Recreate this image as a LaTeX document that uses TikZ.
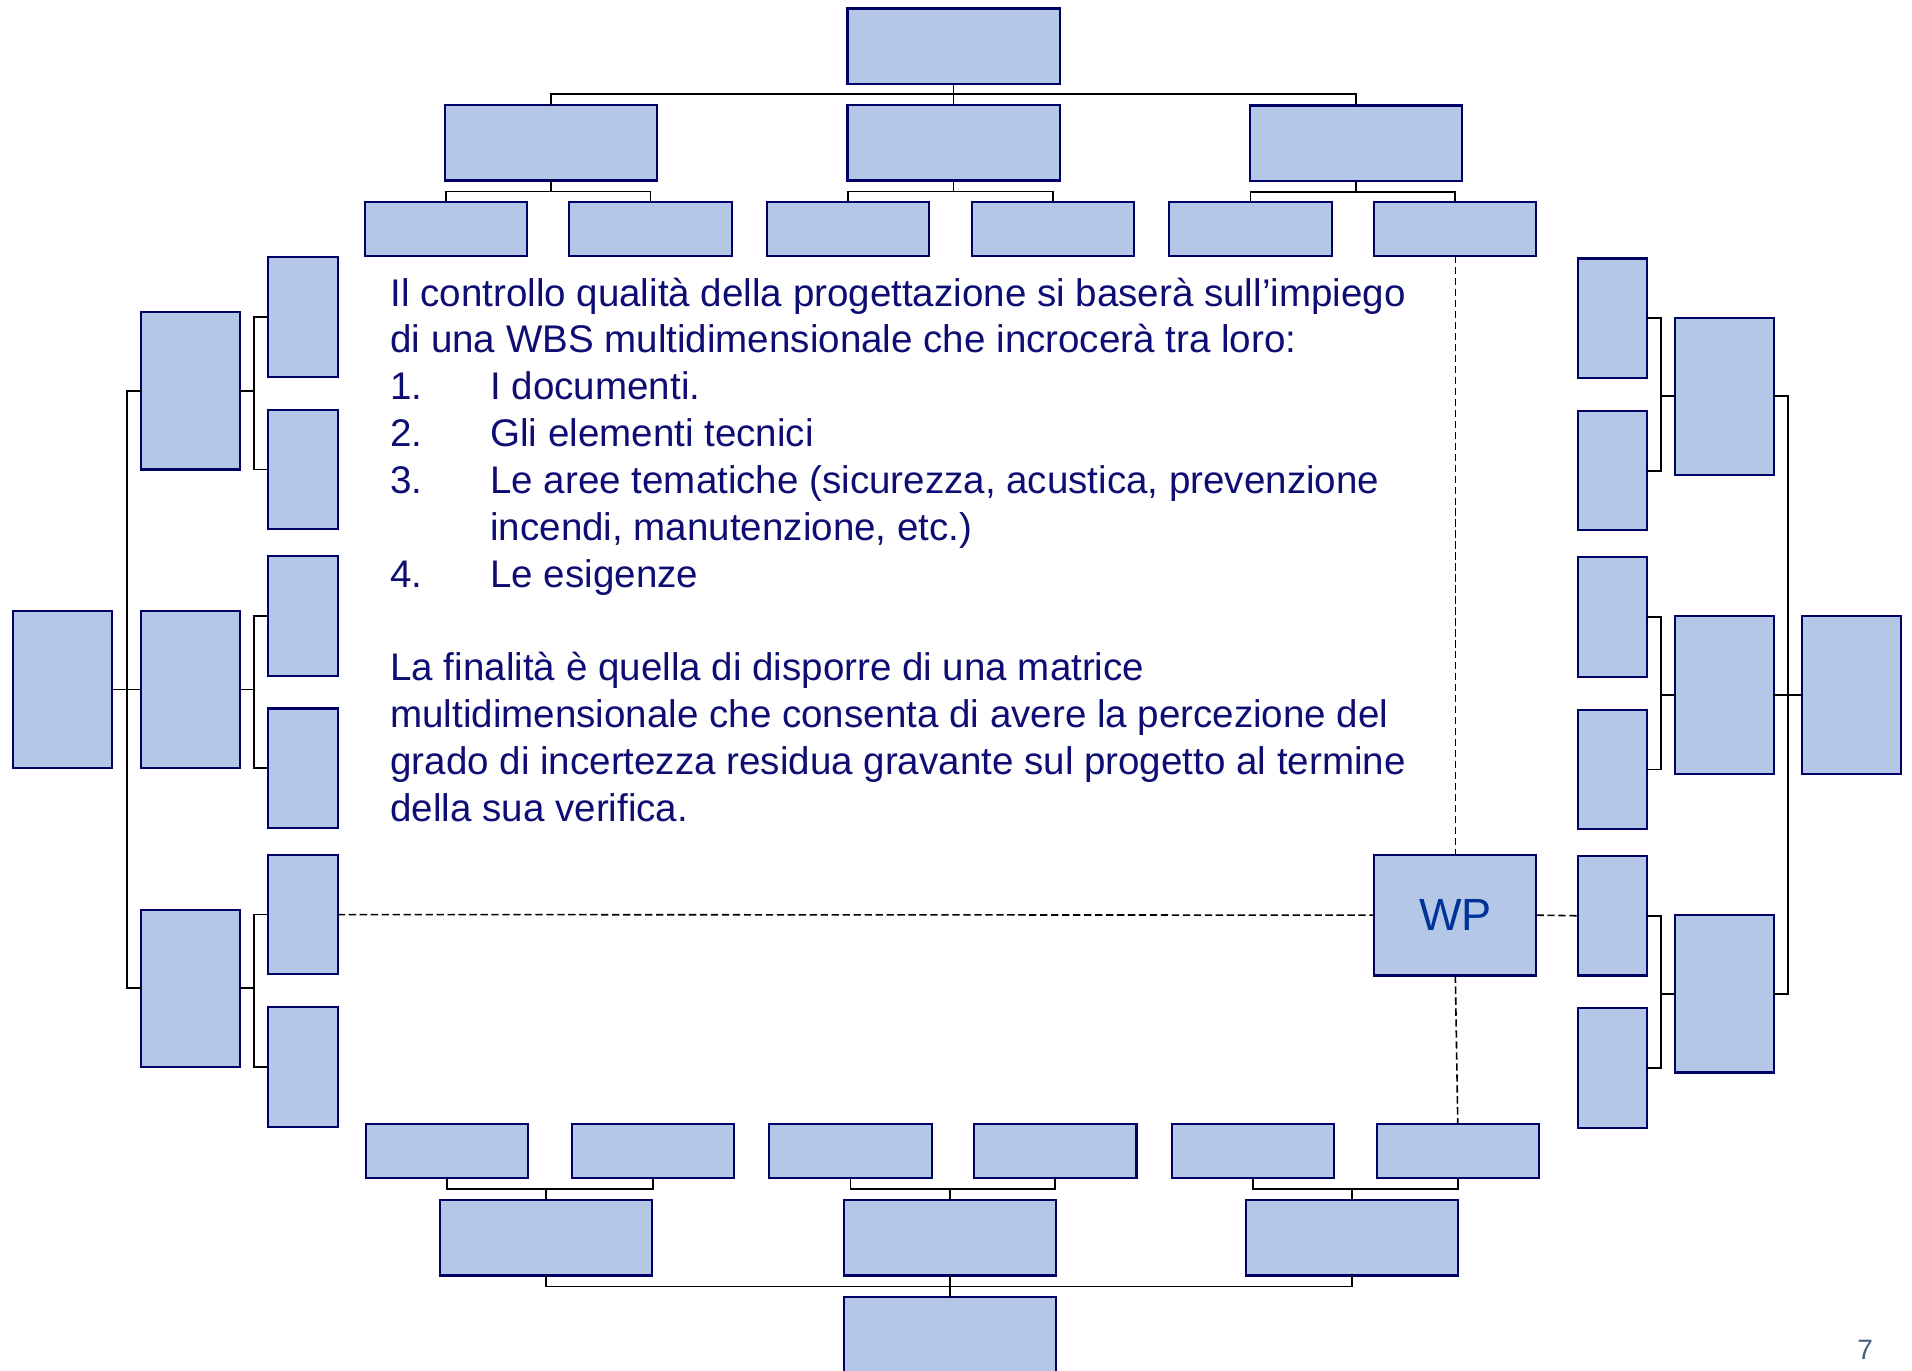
\documentclass[tikz,border=0pt]{standalone}
\usepackage{fontspec}
\setmainfont{Liberation Sans}
\definecolor{boxfill}{RGB}{180,199,231}
\definecolor{boxline}{RGB}{0,0,102}
\definecolor{txt}{RGB}{13,13,115}
\definecolor{wptxt}{RGB}{0,51,153}
\definecolor{pagenum}{RGB}{74,95,128}
\begin{document}
\begin{tikzpicture}[x=1pt,y=-1pt,
  box/.style={draw=boxline,fill=boxfill,line width=1.7pt,inner sep=0pt,outer sep=0pt},
  hbig/.style={box,minimum width=174pt,minimum height=62pt},
  hsmall/.style={box,minimum width=133pt,minimum height=44pt},
  vbig/.style={box,minimum width=81pt,minimum height=129pt},
  vsmall/.style={box,minimum width=57pt,minimum height=98pt},
  conn/.style={draw=black,line width=1.5pt},
  dconn/.style={draw=black,line width=1.3pt,dash pattern=on 6pt off 3pt},
  body/.style={text=txt,font=\fontsize{31.6}{38.4}\selectfont,anchor=base west,inner sep=0pt}]
\useasboundingbox (0,0) rectangle (1568,1124);
\fill[white] (0,0) rectangle (1568,1124);
% ---- top tree
\node[hbig] (T0) at (782,38) {};
\node[hbig] (TA) at (452,117) {};
\node[hbig] (TB) at (782,117) {};
\node[hbig] (TC) at (1112,117.5) {};
\node[hsmall] (T1) at (365.5,188) {};
\node[hsmall] (T2) at (533.5,188) {};
\node[hsmall] (T3) at (695.5,188) {};
\node[hsmall] (T4) at (863.5,188) {};
\node[hsmall] (T5) at (1025.5,188) {};
\node[hsmall] (T6) at (1193.5,188) {};
\draw[conn] (T0.south) -- ++(0,8) -| (TA.north);
\draw[conn] (T0.south) -- ++(0,8) -| (TB.north);
\draw[conn] (T0.south) -- ++(0,8) -| (TC.north);
\draw[conn] (TA.south) -- ++(0,9) -| (T1.north);
\draw[conn] (TA.south) -- ++(0,9) -| (T2.north);
\draw[conn] (TB.south) -- ++(0,9) -| (T3.north);
\draw[conn] (TB.south) -- ++(0,9) -| (T4.north);
\draw[conn] (TC.south) -- ++(0,9) -| (T5.north);
\draw[conn] (TC.south) -- ++(0,9) -| (T6.north);
% ---- bottom tree
\node[hsmall] (B1) at (366.5,944) {};
\node[hsmall] (B2) at (535.5,944) {};
\node[hsmall] (B3) at (697.5,944) {};
\node[hsmall] (B4) at (865.5,944) {};
\node[hsmall] (B5) at (1027.5,944) {};
\node[hsmall] (B6) at (1195.5,944) {};
\node[hbig] (BA) at (448,1015) {};
\node[hbig] (BB) at (779,1015) {};
\node[hbig] (BC) at (1109,1015) {};
\node[hbig] (B0) at (779,1095) {};
\draw[conn] (BA.north) -- ++(0,-9) -| (B1.south);
\draw[conn] (BA.north) -- ++(0,-9) -| (B2.south);
\draw[conn] (BB.north) -- ++(0,-9) -| (B3.south);
\draw[conn] (BB.north) -- ++(0,-9) -| (B4.south);
\draw[conn] (BC.north) -- ++(0,-9) -| (B5.south);
\draw[conn] (BC.north) -- ++(0,-9) -| (B6.south);
\draw[conn] (B0.north) -- ++(0,-9) -| (BA.south);
\draw[conn] (B0.north) -- ++(0,-9) -| (BB.south);
\draw[conn] (B0.north) -- ++(0,-9) -| (BC.south);
% ---- left tree
\node[vbig] (LR) at (51.5,565.5) {};
\node[vbig] (LM1) at (156,320.5) {};
\node[vbig] (LM2) at (156,565.5) {};
\node[vbig] (LM3) at (156,810.5) {};
\node[vsmall] (LS1) at (248.5,260) {};
\node[vsmall] (LS2) at (248.5,385) {};
\node[vsmall] (LS3) at (248.5,505) {};
\node[vsmall] (LS4) at (248.5,630) {};
\node[vsmall] (LS5) at (248.5,750) {};
\node[vsmall] (LS6) at (248.5,875) {};
\draw[conn] (LR.east) -- ++(12,0) |- (LM1.west);
\draw[conn] (LR.east) -- (LM2.west);
\draw[conn] (LR.east) -- ++(12,0) |- (LM3.west);
\draw[conn] (LM1.east) -- ++(12,0) |- (LS1.west);
\draw[conn] (LM1.east) -- ++(12,0) |- (LS2.west);
\draw[conn] (LM2.east) -- ++(12,0) |- (LS3.west);
\draw[conn] (LM2.east) -- ++(12,0) |- (LS4.west);
\draw[conn] (LM3.east) -- ++(12,0) |- (LS5.west);
\draw[conn] (LM3.east) -- ++(12,0) |- (LS6.west);
% ---- right tree
\node[vbig] (RR) at (1518.5,570) {};
\node[vbig] (RM1) at (1414.5,325) {};
\node[vbig] (RM2) at (1414.5,570) {};
\node[vbig] (RM3) at (1414.5,815) {};
\node[vsmall] (RS1) at (1322.5,261) {};
\node[vsmall] (RS2) at (1322.5,386) {};
\node[vsmall] (RS3) at (1322.5,506) {};
\node[vsmall] (RS4) at (1322.5,631) {};
\node[vsmall] (RS5) at (1322.5,751) {};
\node[vsmall] (RS6) at (1322.5,876) {};
\draw[conn] (RR.west) -- ++(-12,0) |- (RM1.east);
\draw[conn] (RR.west) -- (RM2.east);
\draw[conn] (RR.west) -- ++(-12,0) |- (RM3.east);
\draw[conn] (RM1.west) -- ++(-12,0) |- (RS1.east);
\draw[conn] (RM1.west) -- ++(-12,0) |- (RS2.east);
\draw[conn] (RM2.west) -- ++(-12,0) |- (RS3.east);
\draw[conn] (RM2.west) -- ++(-12,0) |- (RS4.east);
\draw[conn] (RM3.west) -- ++(-12,0) |- (RS5.east);
\draw[conn] (RM3.west) -- ++(-12,0) |- (RS6.east);
% ---- WP
\node[box,minimum width=133pt,minimum height=99pt,text=wptxt,font=\fontsize{37}{40}\selectfont] (WP) at (1193.5,750.5) {WP};
\draw[dconn] (LS5.east) -- (WP.west);
\draw[dconn] (WP.east) -- (RS5.west);
\draw[dconn] (T6.south) -- (WP.north);
\draw[dconn] (WP.south) -- (B6.north);
% ---- text
\node[body] (l1) at (320,251) {Il controllo qualità della progettazione si baserà sull’impiego};
\node[body] (l2) at (320,289.4) {di una WBS multidimensionale che incrocerà tra loro:};
\node[body] (l3) at (320,327.8) {\makebox[82pt][l]{1.}I documenti.};
\node[body] (l4) at (320,366.2) {\makebox[82pt][l]{2.}Gli elementi tecnici};
\node[body] (l5) at (320,404.6) {\makebox[82pt][l]{3.}Le aree tematiche (sicurezza, acustica, prevenzione};
\node[body] (l6) at (402,443) {incendi, manutenzione, etc.)};
\node[body] (l7) at (320,481.4) {\makebox[82pt][l]{4.}Le esigenze};
\node[body] (l8) at (320,558.2) {La finalità è quella di disporre di una matrice};
\node[body] (l9) at (320,596.6) {multidimensionale che consenta di avere la percezione del};
\node[body] (l10) at (320,635) {grado di incertezza residua gravante sul progetto al termine};
\node[body] (l11) at (320,673.4) {della sua verifica.};
\node[text=pagenum,font=\fontsize{23}{26}\selectfont,anchor=base,inner sep=0pt] (pg) at (1529.5,1114.5) {7};
\end{tikzpicture}
\end{document}
